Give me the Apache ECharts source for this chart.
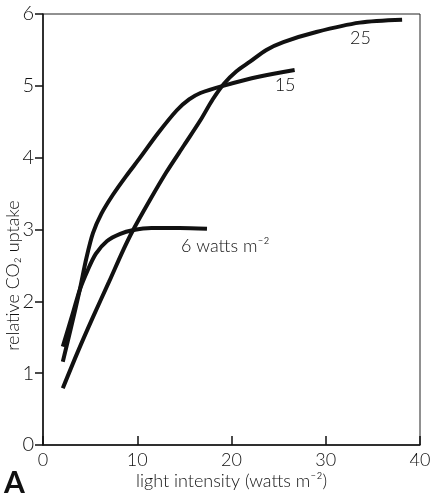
<!DOCTYPE html>
<html>
<head>
<meta charset="utf-8">
<script src="https://cdn.jsdelivr.net/npm/echarts@6/dist/echarts.min.js"></script>
<style>
  html, body { margin: 0; padding: 0; background: #fff; }
  #chart { width: 436px; height: 496px; }
</style>
</head>
<body>
<div id="chart"></div>
<script>
// values: [light intensity, relative CO2 uptake]
var curve6 = [[2.1, 1.37], [3.2, 1.85], [3.9, 2.16], [4.7, 2.42], [5.6, 2.66], [6.8, 2.84], [8.2, 2.94], [9.5, 2.99], [11.5, 3.02], [14.5, 3.02], [17.4, 3.01]];
var curve15 = [[2.1, 1.16], [3.0, 1.65], [3.9, 2.16], [4.6, 2.6], [5.3, 2.95], [6.2, 3.22], [7.4, 3.48], [8.8, 3.74], [10.3, 4.0], [12.2, 4.34], [14.2, 4.66], [15.5, 4.81], [16.7, 4.9], [19.1, 5.0], [23, 5.13], [26.7, 5.22]];
var curve25 = [[2.1, 0.79], [3.7, 1.3], [5.3, 1.78], [7.0, 2.27], [8.5, 2.71], [9.55, 2.99], [11.3, 3.4], [13.1, 3.8], [15.0, 4.18], [16.7, 4.52], [18.0, 4.81], [19.2, 5.03], [20.5, 5.2], [22, 5.34], [23.7, 5.5], [25.5, 5.61], [29, 5.75], [33.6, 5.88], [38.1, 5.92]];
var xTicks = [0, 10, 20, 30, 40];
var yTicks = [0, 1, 2, 3, 4, 5, 6];

var font = 'Lato, "DejaVu Sans", sans-serif';

function curve(name, data, label, offset) {
  return {
    name: name,
    type: 'line',
    data: data,
    smooth: 0.3,
    symbol: 'none',
    lineStyle: { color: '#111', width: 4 },
    endLabel: {
      show: true,
      formatter: label,
      offset: offset,
      color: '#111',
      fontFamily: font,
      fontWeight: 300,
      fontSize: 18
    },
    z: 3
  };
}

var chart = echarts.init(document.getElementById('chart'));
chart.setOption({
  animation: false,
  grid: { left: 43, right: 16, top: 14, bottom: 51, show: true, borderColor: '#222', borderWidth: 1,
    containLabel: false, outerBoundsMode: 'none' },
  xAxis: {
    type: 'value',
    min: 0, max: 40, interval: 10,
    name: 'light intensity (watts m\u207B\u00B2)',
    nameLocation: 'middle',
    nameGap: 27,
    nameMoveOverlap: false,
    nameTextStyle: { color: '#111', fontFamily: font, fontWeight: 300, fontSize: 18 },
    axisLine: { lineStyle: { color: '#111', width: 1.5 } },
    axisTick: { inside: true, length: 9, lineStyle: { color: '#111', width: 1.5 } },
    axisLabel: { color: '#111', fontFamily: font, fontWeight: 300, fontSize: 18, margin: 6,
      formatter: function (v) { return xTicks.indexOf(v) >= 0 ? String(v) : ''; } },
    splitLine: { show: false }
  },
  yAxis: {
    type: 'value',
    min: 0, max: 6, interval: 1,
    name: 'relative CO\u2082 uptake',
    nameLocation: 'middle',
    nameGap: 21,
    nameMoveOverlap: false,
    nameTextStyle: { color: '#111', fontFamily: font, fontWeight: 300, fontSize: 18, padding: [0, 92, 0, 0] },
    axisLine: { show: true, lineStyle: { color: '#111', width: 1.5 } },
    axisTick: { show: true, length: 8, lineStyle: { color: '#111', width: 1.5 } },
    axisLabel: { color: '#111', fontFamily: font, fontWeight: 300, fontSize: 20, margin: 9,
      formatter: function (v) { return yTicks.indexOf(v) >= 0 ? String(v) : ''; } },
    splitLine: { show: false }
  },
  graphic: [{
    type: 'text', left: 4, top: 468,
    style: { text: 'A', font: 'bold 30px ' + font, fill: '#111' }
  }],
  series: [
    curve('6', curve6, '6 watts m\u207B\u00B2', [-34, 17]),
    curve('15', curve15, '15', [-28, 15]),
    curve('25', curve25, '25', [-60, 18])
  ]
});
</script>
</body>
</html>
